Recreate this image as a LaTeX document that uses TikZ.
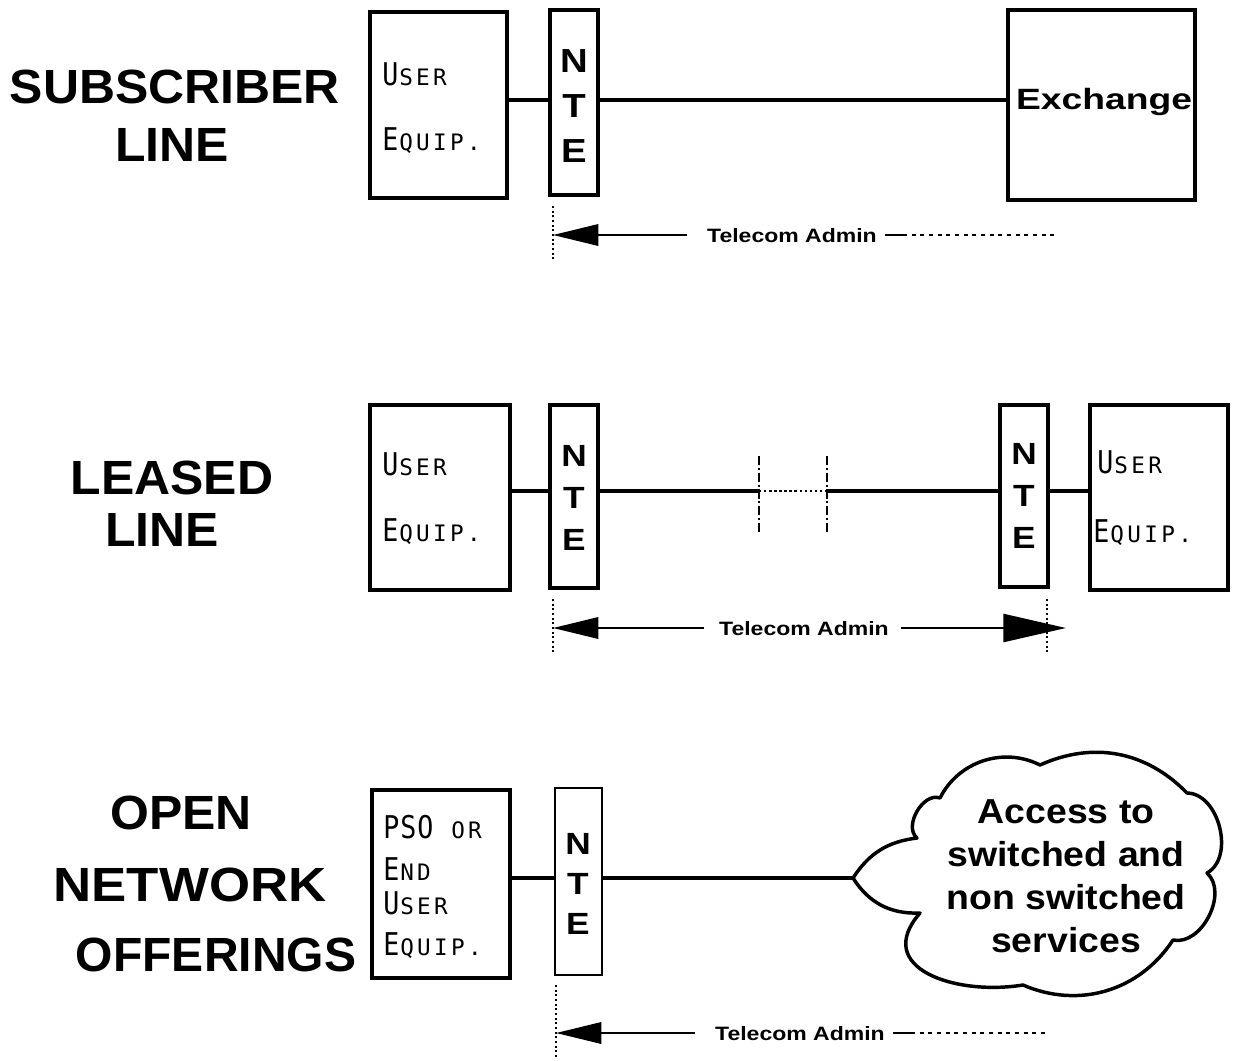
\documentclass[tikz,border=0pt]{standalone}
\usepackage{fontspec}
\usetikzlibrary{arrows.meta,fit}
\newfontfamily\hv{Liberation Sans}
\newfontfamily\plt{DejaVu Sans Mono}
% fixed-pitch small capitals for the equipment labels
\newlength\pitch
\setlength\pitch{12.75pt}
\newcommand\uc[1]{\makebox[\pitch][l]{\fontsize{23.5}{23.5}\selectfont\scalebox{0.85}[1]{#1}}}
\newcommand\lc[1]{\makebox[\pitch][l]{\fontsize{17}{17}\selectfont#1}}
% widened bold letters for the NTE columns
\newcommand\wideletter[1]{\scalebox{1.15}[1]{#1}}
\newcommand\ntecol{\wideletter{N}\\\wideletter{T}\\\wideletter{E}}
\tikzset{
  ubox/.style={draw,line width=3pt,inner sep=0pt},
  ntebox/.style={draw,line width=3pt,inner sep=0pt},
  ntetext/.style 2 args={inner sep=0pt,align=center,
    font=\hv\bfseries\fontsize{#1}{#2}\selectfont},
  wire/.style={line width=2.4pt},
  guide/.style={line width=1.5pt,dotted},
  tick/.style={line width=1.8pt,dash pattern=on 7pt off 2pt on 1.5pt off 2pt},
  heavyL/.style={line width=1.8pt,-{Triangle[length=34pt,width=16pt]}},
  heavyR/.style={line width=1.8pt,-{Triangle[length=47pt,width=21pt]}},
  tailline/.style={line width=1.5pt,dash pattern=on 3pt off 3.5pt},
  title/.style={inner sep=0pt,font=\hv\bfseries\fontsize{36}{40}\selectfont},
  admin/.style={inner sep=0pt,font=\hv\bfseries\fontsize{14.5}{16}\selectfont},
  eqtext/.style={anchor=base west,inner sep=0pt,font=\plt},
}
\begin{document}
\begin{tikzpicture}[x=0.75pt,y=-0.75pt]
\useasboundingbox (0,0) rectangle (1240,1061);

% ---------------- subscriber line ----------------
\node[title] (sl1) at (175,87) {\scalebox{1.04}[1]{SUBSCRIBER}};
\node[title] (sl2) at (172,145) {\scalebox{1.04}[1]{LINE}};

\node[ubox,fit={(370,12) (507,198)}] (ue1) {};
\node[eqtext] (ue1a) at (382,85) {\uc U\lc S\lc E\lc R};
\node[eqtext] (ue1b) at (382,150) {\uc E\lc Q\lc U\lc I\lc P\lc .};
\node[ntebox,fit={(550,10) (598,195)}] (nte1) {};
\node[ntetext={25}{33.75}] (nte1t) at (574,106) {\ntecol};
\node[ubox,fit={(1008,10) (1195,200)}] (exch) {};
\node[inner sep=0pt,font=\hv\bfseries\fontsize{22}{24}\selectfont] (exchT) at (1104,102)
  {\scalebox{1.27}[1]{Exchange}};

\draw[wire] (ue1.east |- 0,100) -- (nte1.west |- 0,100);
\draw[wire] (nte1.east |- 0,100) -- (exch.west |- 0,100);

\draw[guide] (553,206) -- (553,262);
\coordinate (t1) at (553,235);
\node[admin] (adm1) at (792,236) {\scalebox{1.19}[1]{Telecom Admin}};
\draw[heavyL] ([xshift=-15pt]adm1.west |- t1) -- (t1);
\draw[line width=1.5pt] ([xshift=6pt]adm1.east |- t1) -- ++(18,0) coordinate (m1);
\coordinate (e1) at (1058,235);
\draw[tailline] (m1) -- (e1);

% ---------------- leased line ----------------
\node[title] (ll1) at (172,478) {\scalebox{1.04}[1]{LEASED}};
\node[title] (ll2) at (162,530) {\scalebox{1.04}[1]{LINE}};

\node[ubox,fit={(370,405) (510,590)}] (ue2) {};
\node[eqtext] (ue2a) at (382,475) {\uc U\lc S\lc E\lc R};
\node[eqtext] (ue2b) at (382,541) {\uc E\lc Q\lc U\lc I\lc P\lc .};
\node[ntebox,fit={(550,405) (598,588)}] (nte2) {};
\node[ntetext={23}{31.5}] (nte2t) at (574,498) {\ntecol};
\node[ntebox,fit={(1000,405) (1048,587)}] (nte3) {};
\node[ntetext={23}{31.5}] (nte3t) at (1024,496) {\ntecol};
\node[ubox,fit={(1090,405) (1228,590)}] (ue3) {};
\node[eqtext] (ue3a) at (1097,473) {\uc U\lc S\lc E\lc R};
\node[eqtext] (ue3b) at (1093,542) {\uc E\lc Q\lc U\lc I\lc P\lc .};

\coordinate (k1) at (759,491);
\coordinate (k2) at (827,491);
\draw[wire] (ue2.east |- 0,491) -- (nte2.west |- 0,491);
\draw[wire] (nte2.east |- 0,491) -- (k1);
\draw[line width=1.8pt,dotted] (k1) -- (k2);
\draw[wire] (k2) -- (nte3.west |- 0,491);
\draw[wire] (nte3.east |- 0,491) -- (ue3.west |- 0,491);
\draw[tick] (759,456) -- (759,533);
\draw[tick] (827,456) -- (827,533);

\draw[guide] (553,599) -- (553,655);
\draw[guide] (1047,599) -- (1047,655);
\coordinate (t2l) at (553,628);
\coordinate (t2r) at (1066,628);
\node[admin] (adm2) at (804,629) {\scalebox{1.19}[1]{Telecom Admin}};
\draw[heavyL] ([xshift=-11pt]adm2.west |- t2l) -- (t2l);
\draw[heavyR] ([xshift=9pt]adm2.east |- t2r) -- (t2r);

% ---------------- open network offerings ----------------
\node[title] (on1) at (181,813) {\scalebox{1.04}[1]{OPEN}};
\node[title] (on2) at (190,885) {\scalebox{1.1}[1]{NETWORK}};
\node[title] (on3) at (216,955) {\scalebox{1.0}[1]{OFFERINGS}};

\node[ubox,fit={(372,790) (510,978)}] (ue4) {};
\node[eqtext] (ue4a) at (383,838) {\uc P\uc S\uc O\lc{ }\lc O\lc R};
\node[eqtext] (ue4b) at (383,880) {\uc E\lc N\lc D};
\node[eqtext] (ue4c) at (383,914) {\uc U\lc S\lc E\lc R};
\node[eqtext] (ue4d) at (383,955) {\uc E\lc Q\lc U\lc I\lc P\lc .};
\node[ntebox,line width=1.2pt,fit={(555,788) (602,975)}] (nte4) {};
\node[ntetext={23}{30}] (nte4t) at (578,884) {\ntecol};

% cloud outline, drawn bump by bump
\coordinate (ctip) at (853,878);
\draw[line width=2.6pt,line join=round]
  (ctip) to[bend left=25] (917,838) to[bend left=80] (940,798)
  to[bend left=45] (1040,765) to[bend left=35] (1187,793)
  to[bend left=75] (1207,873) to[bend left=75] (1173,940)
  to[bend left=40] (1023,985)
  .. controls (955,996) and (872,968) .. (920,913)
  to[bend left=30] (ctip);
\node[inner sep=0pt,align=center,font=\hv\bfseries\fontsize{26}{32.3}\selectfont] (svc) at (1066,876)
  {\scalebox{1.08}[1]{Access to}\\\scalebox{1.08}[1]{switched and}\\
   \scalebox{1.08}[1]{non switched}\\\scalebox{1.08}[1]{services}};

\draw[wire] (ue4.east |- 0,878) -- (nte4.west |- 0,878);
\draw[wire] (nte4.east |- 0,878) -- (ctip);

\draw[guide] (556,985) -- (556,1057);
\coordinate (t3) at (556,1033);
\node[admin] (adm3) at (800,1034) {\scalebox{1.19}[1]{Telecom Admin}};
\draw[heavyL] ([xshift=-15pt]adm3.west |- t3) -- (t3);
\draw[line width=1.5pt] ([xshift=6pt]adm3.east |- t3) -- ++(18,0) coordinate (m3);
\coordinate (e3) at (1045,1033);
\draw[tailline] (m3) -- (e3);
\end{tikzpicture}
\end{document}
